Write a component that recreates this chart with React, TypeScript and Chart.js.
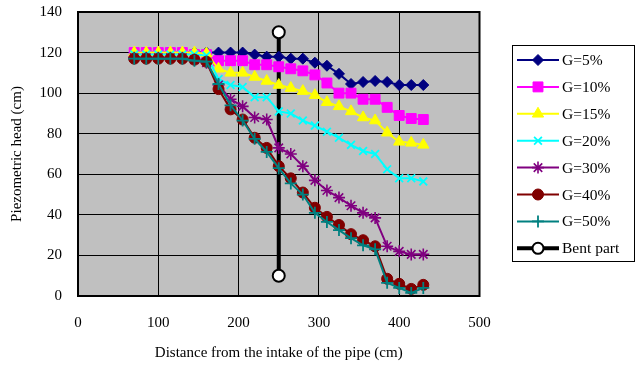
import { useEffect, useRef } from 'react';
import { Chart, registerables } from 'chart.js';
import { drawPoint } from 'chart.js/helpers';

Chart.register(...registerables);

const distances = [70, 85, 100, 115, 130, 145, 160, 175, 190, 205, 220, 235, 250, 265, 280, 295, 310, 325, 340, 355, 370, 385, 400, 415, 430];

const g5 = [120, 120, 120, 120, 120, 120, 120, 120, 120, 120, 119, 118, 118, 117, 117, 115, 113.5, 109.5, 104.5, 105.5, 106, 105.5, 104, 104, 104];
const g10 = [120, 120, 120, 120, 120, 119, 119, 116, 116, 116, 114, 114, 113, 112, 111, 109, 105, 100, 100, 97, 97, 93, 89, 87.5, 87];
const g15 = [120, 120, 120, 120, 120, 120, 119.5, 112, 110, 110, 108, 106, 104, 102.5, 101, 99, 95.5, 93.5, 91, 88, 86.5, 80.5, 76, 75.5, 74.5];
const g20 = [119, 119, 119, 119, 119, 119, 118.5, 107, 104, 103, 98, 98, 91, 90, 86.5, 84, 81, 78, 74.5, 71.5, 70, 62.5, 58, 58, 56.5];
const g30 = [117.5, 117.5, 117.5, 117.5, 117.5, 116.5, 115, 104, 97, 93.5, 88, 87, 73, 70, 64, 57, 52, 48.5, 44.5, 41, 38.5, 24.5, 22, 20.5, 20.5];
const g40 = [117, 117, 117, 117, 117, 116.5, 115.5, 102, 92, 87, 78, 73, 64, 58, 51, 43.5, 39, 35, 30.5, 27.5, 24.5, 8.5, 6, 3.5, 5.5];
const g50 = [117, 117, 117, 117, 117, 116, 115.5, 104.5, 94, 86.5, 77.5, 71, 63, 55.5, 50, 41, 36.5, 32.5, 28.5, 25, 23, 6.5, 4, 1.5, 4];

const bentX = [250, 250];
const bentY = [10, 130];

const seriesLabels = ['G=5%', 'G=10%', 'G=15%', 'G=20%', 'G=30%', 'G=40%', 'G=50%'];
const seriesValues = [g5, g10, g15, g20, g30, g40, g50];
const bentLabel = 'Bent part';

const xTitle = 'Distance from the intake of the pipe (cm)';
const yTitle = 'Piezometric head (cm)';

const colors = ['#000080', '#FF00FF', '#FFFF00', '#00FFFF', '#800080', '#800000', '#008080'];
const styles = ['rectRot', 'rect', 'triangle', 'crossRot', 'star', 'circle', 'cross'];
const radii = [5.5, 7, 6.5, 5.5, 6, 5.5, 6];
const pointBorders = [1, 1, 1, 1.8, 1.6, 1, 1.8];

const FONT = "'Liberation Serif', 'Times New Roman', serif";

const framePlugin = {
  id: 'frame',
  beforeDraw(chart: any) {
    const { ctx, chartArea: a } = chart;
    ctx.save();
    ctx.fillStyle = '#ffffff';
    ctx.fillRect(0, 0, chart.width, chart.height);
    ctx.fillStyle = '#C0C0C0';
    ctx.fillRect(a.left, a.top, a.right - a.left, a.bottom - a.top);
    ctx.restore();
  },
  afterDraw(chart: any) {
    const { ctx, chartArea: a } = chart;
    ctx.save();
    ctx.strokeStyle = '#000000';
    ctx.lineWidth = 2;
    ctx.strokeRect(a.left, a.top, a.right - a.left, a.bottom - a.top);

    // legend
    const bx = 512.5, by = 45.5, bw = 122, bh = 216;
    ctx.fillStyle = '#ffffff';
    ctx.fillRect(bx, by, bw, bh);
    ctx.lineWidth = 1;
    ctx.strokeStyle = '#000000';
    ctx.strokeRect(bx, by, bw, bh);
    ctx.font = `15.5px ${FONT}`;
    ctx.textBaseline = 'middle';
    ctx.textAlign = 'left';
    const items = seriesLabels.length + 1;
    for (let i = 0; i < items; i++) {
      const y = 60 + i * 26.9;
      const isBent = i === seriesLabels.length;
      const col = isBent ? '#000000' : colors[i];
      ctx.strokeStyle = col;
      ctx.lineWidth = isBent ? 4 : 2;
      ctx.beginPath();
      ctx.moveTo(517, y);
      ctx.lineTo(559, y);
      ctx.stroke();
      if (isBent) {
        ctx.fillStyle = '#ffffff';
        ctx.strokeStyle = '#000000';
        ctx.lineWidth = 2;
        drawPoint(ctx, { pointStyle: 'circle', radius: 5.5, rotation: 0, borderWidth: 2 } as any, 538, y);
      } else {
        ctx.fillStyle = col;
        ctx.strokeStyle = col;
        ctx.lineWidth = pointBorders[i];
        drawPoint(ctx, { pointStyle: styles[i], radius: radii[i], rotation: 0, borderWidth: pointBorders[i] } as any, 538, y);
      }
      ctx.fillStyle = '#000000';
      ctx.fillText(isBent ? bentLabel : seriesLabels[i], 562, y + 1);
    }
    ctx.restore();
  },
};

export default function App() {
  const ref = useRef<HTMLCanvasElement>(null);
  useEffect(() => {
    if (!ref.current) return;
    const datasets: any[] = seriesValues.map((vals, i) => ({
      label: seriesLabels[i],
      data: distances.map((x, j) => ({ x, y: vals[j] })),
      borderColor: colors[i],
      backgroundColor: colors[i],
      borderWidth: 2,
      pointStyle: styles[i],
      pointRadius: radii[i],
      pointBorderWidth: pointBorders[i],
      pointBorderColor: colors[i],
      pointBackgroundColor: colors[i],
      tension: 0,
      order: seriesLabels.length - i,
    }));
    datasets.push({
      label: bentLabel,
      data: bentX.map((x, j) => ({ x, y: bentY[j] })),
      borderColor: '#000000',
      backgroundColor: '#ffffff',
      borderWidth: 4,
      pointStyle: 'circle',
      pointRadius: 6,
      pointBorderWidth: 2,
      pointBorderColor: '#000000',
      pointBackgroundColor: '#ffffff',
      order: 20,
    });
    const tickFont = { family: FONT, size: 15 };
    const chart = new Chart(ref.current, {
      type: 'line',
      data: { datasets },
      options: {
        animation: false,
        responsive: false,
        events: [],
        layout: { padding: { left: 0, right: 160.5, top: 12, bottom: 0 } },
        plugins: { legend: { display: false }, tooltip: { enabled: false } },
        scales: {
          x: {
            type: 'linear',
            min: 0,
            max: 500,
            ticks: { stepSize: 100, font: tickFont, color: '#000', padding: 18, maxRotation: 0 },
            grid: { color: '#000', lineWidth: 1, drawTicks: false },
            border: { display: false },
            title: { display: true, text: xTitle, font: tickFont, color: '#000', padding: { top: 0, bottom: 5 } },
            afterFit: (s: any) => { s.height = 71; },
          },
          y: {
            type: 'linear',
            min: 0,
            max: 140,
            ticks: { stepSize: 20, font: tickFont, color: '#000', padding: 16 },
            grid: { color: '#000', lineWidth: 1, drawTicks: false },
            border: { display: false },
            title: { display: true, text: yTitle, font: tickFont, color: '#000', padding: { top: 8, bottom: 0 } },
            afterFit: (s: any) => { s.width = 78; s.paddingTop = 0; s.paddingBottom = 0; },
          },
        },
      },
      plugins: [framePlugin],
    });
    return () => chart.destroy();
  }, []);
  return (
    <canvas
      ref={ref}
      width={640}
      height={367}
      style={{ position: 'absolute', left: 0, top: 0, display: 'block' }}
    />
  );
}
